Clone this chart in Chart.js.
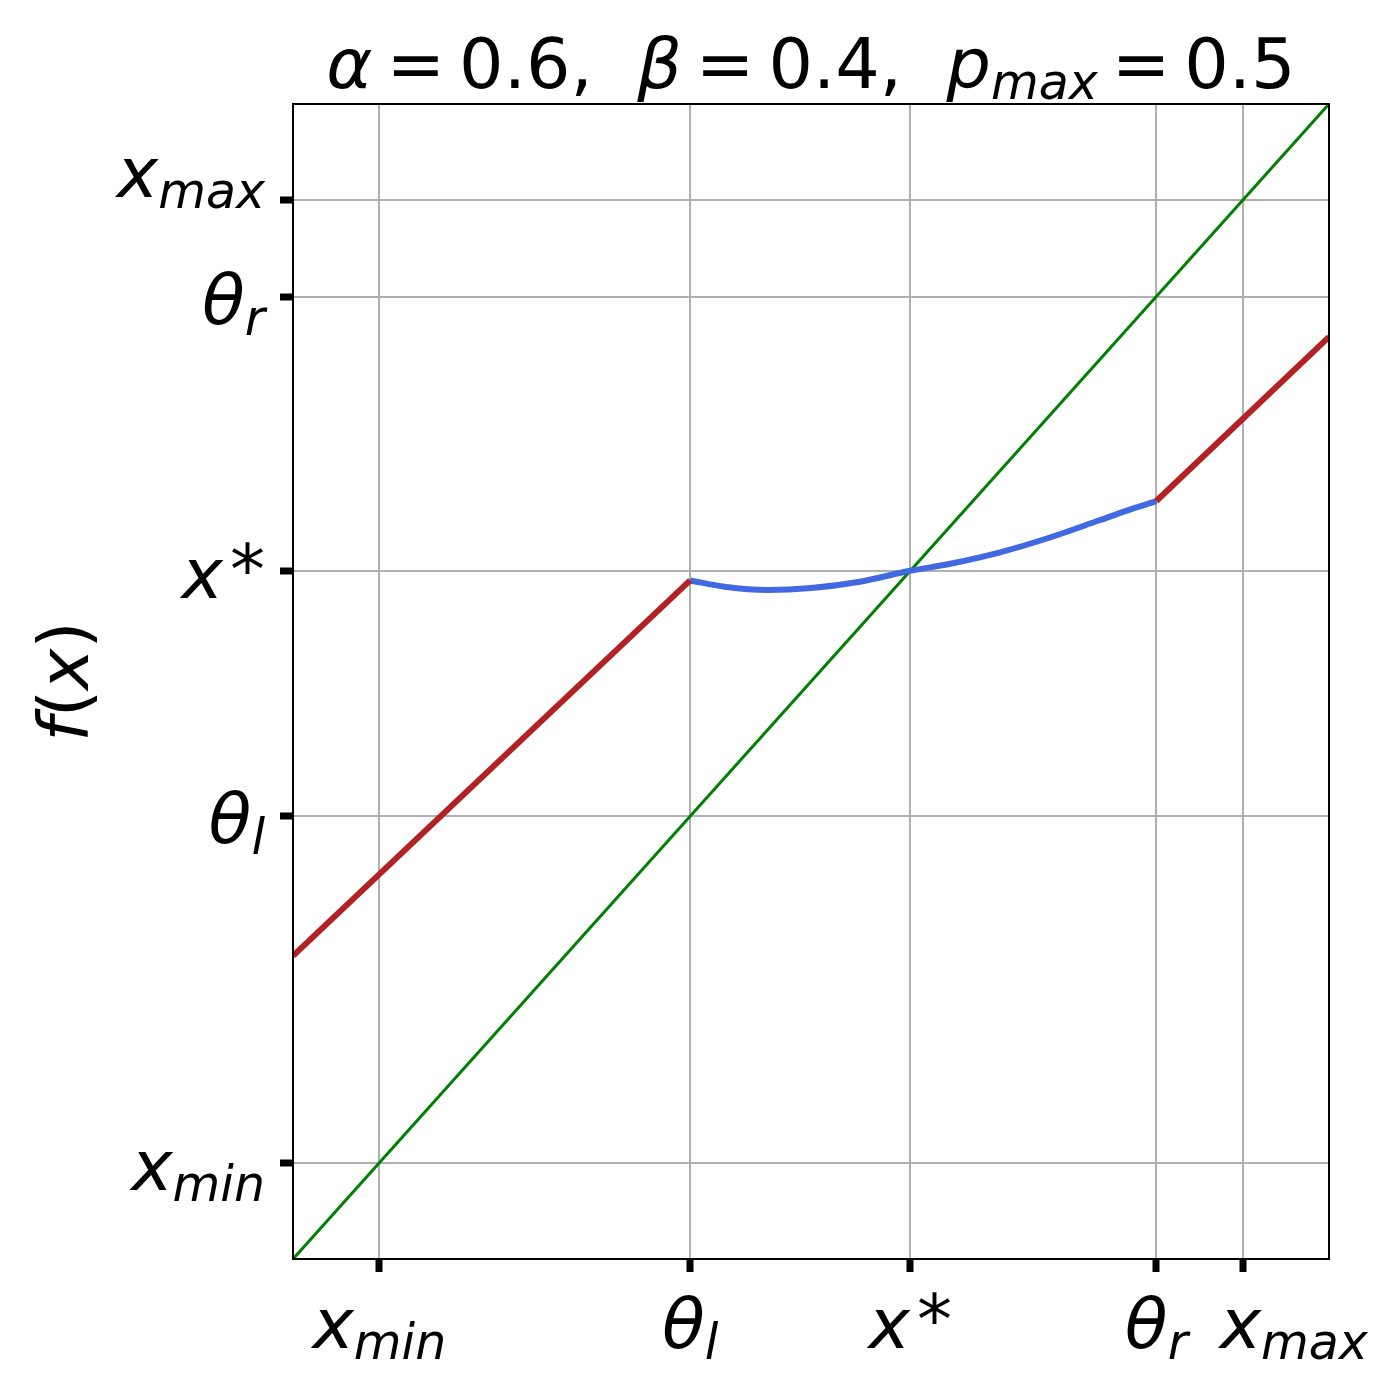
<!DOCTYPE html>
<html>
<head>
<meta charset="utf-8">
<script src="https://cdn.jsdelivr.net/npm/chart.js@4.4.1/dist/chart.umd.min.js"></script>
<style>
    html, body { margin: 0; padding: 0; background: #fff; }
</style>
</head>
<body>
<canvas id="mapChart" width="1400" height="1400"></canvas>
<script>
// Wartości (osie od -0.1 do 1.1, x_min = 0, x_max = 1)
const tickValues = [0, 0.36, 0.615, 0.9, 1.0];
const tickLabels = [
    [{ t: 'x', it: true }, { t: 'min', it: true, sub: true }],
    [{ t: 'θ', it: true }, { t: 'l', it: true, sub: true }],
    [{ t: 'x', it: true }, { t: '*', sup: true }],
    [{ t: 'θ', it: true }, { t: 'r', it: true, sub: true }],
    [{ t: 'x', it: true }, { t: 'max', it: true, sub: true }]
];

const diagX = [-0.1, 1.1];
const diagY = [-0.1, 1.1];

const redLeftX = [-0.1, 0.36];
const redLeftY = [0.215, 0.605];
const redRightX = [0.9, 1.1];
const redRightY = [0.6875, 0.858];

const blueX = [0.36, 0.40, 0.45, 0.50, 0.555, 0.615, 0.66, 0.72, 0.775, 0.835, 0.875, 0.9];
const blueY = [0.605, 0.5985, 0.5951, 0.5971, 0.6034, 0.615, 0.6221, 0.6345, 0.6491, 0.6678, 0.6803, 0.6875];

const titleParts = [
    { t: 'α', it: true }, { t: '\u2009=\u20090.6,  ' },
    { t: 'β', it: true }, { t: '\u2009=\u20090.4,  ' },
    { t: 'p', it: true }, { t: 'max', it: true, sub: true }, { t: '\u2009=\u20090.5' }
];
const yTitleParts = [{ t: 'f', it: true }, { t: '(' }, { t: 'x', it: true }, { t: ')' }];

const FONT = 'DejaVu Sans';
const SIZE = 70;

function toPoints(xs, ys) {
    return xs.map((x, i) => ({ x: x, y: ys[i] }));
}

// Tekst "matematyczny" z indeksami dolnymi
function partFont(p, size) {
    const s = p.sub ? size * 0.7 : size;
    return (p.it ? 'italic ' : '') + s + 'px "' + FONT + '"';
}

function mathWidth(ctx, parts, size) {
    let w = 0;
    parts.forEach(p => {
        ctx.font = partFont(p, size);
        w += ctx.measureText(p.t).width + (p.sup ? size * 0.1 : 0);
    });
    return w;
}

function drawMath(ctx, parts, x, y, size, align) {
    const w = mathWidth(ctx, parts, size);
    let cx = align === 'right' ? x - w : (align === 'center' ? x - w / 2 : x);
    ctx.textAlign = 'left';
    ctx.textBaseline = 'alphabetic';
    ctx.fillStyle = '#000';
    parts.forEach(p => {
        ctx.font = partFont(p, size);
        let dy = 0;
        if (p.sub) dy = size * 0.16;
        if (p.sup) { dy = -size * 0.06; cx += size * 0.1; }
        ctx.fillText(p.t, cx, y + dy);
        cx += ctx.measureText(p.t).width;
    });
}

const labelPlugin = {
    id: 'labelPlugin',
    afterDraw(chart) {
        const ctx = chart.ctx;
        const area = chart.chartArea;
        const xs = chart.scales.x;
        const ys = chart.scales.y;
        ctx.save();

        // ramka wykresu
        ctx.strokeStyle = '#000';
        ctx.lineWidth = 2;
        ctx.strokeRect(area.left, area.top, area.right - area.left, area.bottom - area.top);

        // etykiety osi X
        tickValues.forEach((v, i) => {
            const px = xs.getPixelForValue(v);
            if (i === tickValues.length - 1) {
                drawMath(ctx, tickLabels[i], px - 23, area.bottom + 89, SIZE, 'left');
            } else {
                drawMath(ctx, tickLabels[i], px, area.bottom + 89, SIZE, 'center');
            }
        });

        // etykiety osi Y
        tickValues.forEach((v, i) => {
            const py = ys.getPixelForValue(v);
            const shift = (i === tickValues.length - 1) ? -3 : 27;
            drawMath(ctx, tickLabels[i], area.left - 28, py + shift, SIZE, 'right');
        });

        // tytuł
        drawMath(ctx, titleParts, (area.left + area.right) / 2, 88, SIZE, 'center');

        // opis osi Y
        ctx.translate(88, (area.top + area.bottom) / 2);
        ctx.rotate(-Math.PI / 2);
        drawMath(ctx, yTitleParts, 0, 0, SIZE, 'center');

        ctx.restore();
    }
};

function axisOptions(isX) {
    return {
        type: 'linear',
        min: -0.1,
        max: 1.1,
        afterBuildTicks: scale => {
            scale.ticks = tickValues.map(v => ({ value: v }));
        },
        afterFit: scale => {
            if (isX) scale.height = 141;
            else scale.width = 293;
        },
        ticks: { display: false },
        grid: {
            color: '#b0b0b0',
            lineWidth: 2,
            tickColor: '#000',
            tickWidth: 7,
            tickLength: 13
        },
        border: { display: true, color: '#000', width: 2 }
    };
}

const chart = new Chart(document.getElementById('mapChart').getContext('2d'), {
    type: 'scatter',
    data: {
        datasets: [
            {
                data: toPoints(redLeftX, redLeftY),
                showLine: true,
                borderColor: '#b22222',
                borderWidth: 6,
                pointRadius: 0,
                order: 1
            },
            {
                data: toPoints(redRightX, redRightY),
                showLine: true,
                borderColor: '#b22222',
                borderWidth: 6,
                pointRadius: 0,
                order: 1
            },
            {
                data: toPoints(blueX, blueY),
                showLine: true,
                borderColor: '#4169e1',
                borderWidth: 6,
                pointRadius: 0,
                cubicInterpolationMode: 'monotone',
                order: 2
            },
            {
                data: toPoints(diagX, diagY),
                showLine: true,
                borderColor: '#008000',
                borderWidth: 3,
                pointRadius: 0,
                order: 3
            }
        ]
    },
    options: {
        responsive: false,
        animation: false,
        layout: { padding: { top: 104, right: 71, left: 0, bottom: 0 } },
        plugins: {
            legend: { display: false },
            tooltip: { enabled: false },
            title: { display: false }
        },
        scales: {
            x: axisOptions(true),
            y: axisOptions(false)
        }
    },
    plugins: [labelPlugin]
});
</script>
</body>
</html>
